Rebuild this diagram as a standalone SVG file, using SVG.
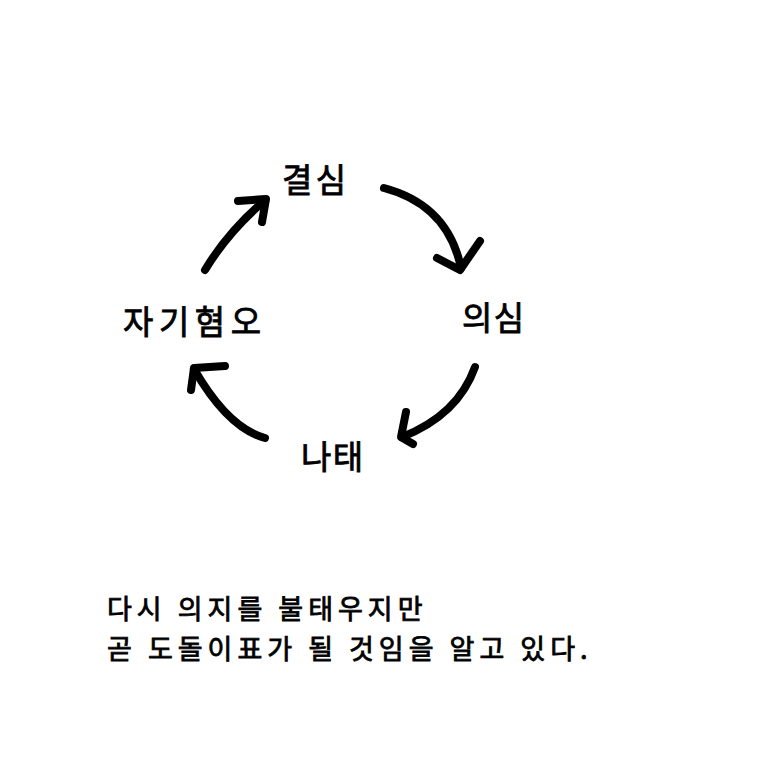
<svg xmlns="http://www.w3.org/2000/svg" width="768" height="768" viewBox="0 0 768 768">
<style>
.lbl{font-family:"Noto Sans CJK KR","Noto Sans",sans-serif;font-size:33px;font-weight:normal;fill:#000;stroke:#000;stroke-width:0.8;text-anchor:middle}
.body{font-family:"Noto Sans CJK KR","Noto Sans",sans-serif;font-size:27px;font-weight:normal;fill:#000;stroke:#000;stroke-width:0.8;letter-spacing:5px}
.arr{fill:none;stroke:#000;stroke-width:8;stroke-linecap:round;stroke-linejoin:round}
</style>
<rect width="768" height="768" fill="#fff"/>
<g id="connectors">
<g id="a1"><path class="arr" d="M205,270 Q228,232 263,202"/><path class="arr" d="M238,201 L266,199 L262,222"/></g>
<g id="a2"><path class="arr" d="M384,188 Q448,205 461,268"/><path class="arr" d="M437,258 L460,270 L480,241"/></g>
<g id="a3"><path class="arr" d="M475,367 Q458,415 402,437"/><path class="arr" d="M406,412 L401,437 L413,444"/></g>
<g id="a4"><path class="arr" d="M265,438 Q228,428 194,369"/><path class="arr" d="M225,366 L194,368 L191,390"/></g>
</g>
<g id="n1"><text class="lbl" x="314" y="192" textLength="64" lengthAdjust="spacing">결심</text></g>
<g id="n2"><text class="lbl" x="493" y="330" textLength="62" lengthAdjust="spacing">의심</text></g>
<g id="n3"><text class="lbl" x="332" y="469" textLength="62" lengthAdjust="spacing">나태</text></g>
<g id="n4"><text class="lbl" x="192" y="334" textLength="138" lengthAdjust="spacing">자기혐오</text></g>
<g id="caption">
<text class="body"><tspan x="107" y="619">다시 의지를 불태우지만</tspan><tspan x="107" y="659">곧 도돌이표가 될 것임을 알고 있다.</tspan></text>
</g>
</svg>
